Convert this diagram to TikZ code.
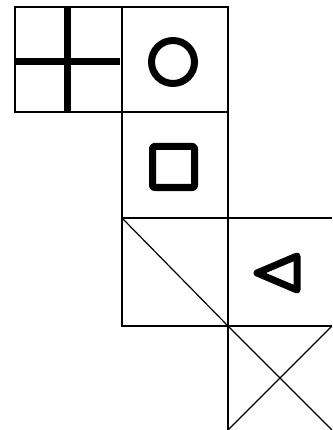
\documentclass[tikz,border=0pt]{standalone}
\begin{document}
\begin{tikzpicture}[x=1pt,y=-1pt,
  gridline/.style={line width=1.2pt,black},
  symbol/.style={line width=7pt,black,line join=round}]
\useasboundingbox (0,0) rectangle (332,430);
\clip (0,0) rectangle (332,430);
% grid cells
\coordinate (a1) at (15,7);
\coordinate (a2) at (122,7);
\coordinate (a3) at (228,7);
\coordinate (b1) at (15,112);
\coordinate (b2) at (122,112);
\coordinate (b3) at (228,112);
\coordinate (c2) at (122,218);
\coordinate (c3) at (228,218);
\coordinate (c4) at (332,218);
\coordinate (d2) at (122,326);
\coordinate (d3) at (228,326);
\coordinate (d4) at (332,326);
\coordinate (e3) at (228,430);
\coordinate (e4) at (332,430);
\draw[gridline] (a1) -- (a3) -- (b3) -- (b1) -- cycle;
\draw[gridline] (a2) -- (b2) -- (d2) -- (d3) -- (c3) -- (c2);
\draw[gridline] (b3) -- (c3) -- (c4);
\draw[gridline] (d3) -- (e3);
\draw[gridline] (d3) -- (d4);
\draw[gridline] (c2) -- (d3) -- (e4);
\draw[gridline] (d4) -- (e3);
% symbols
\draw[symbol] (67,7) -- (67,112);
\draw[symbol] (15,62) -- (120,62);
\draw[symbol] (173,62) circle (21.5);
\draw[symbol,rounded corners=2pt] (152.5,146.5) rectangle (194.5,187.5);
\draw[symbol] (257,273) -- (297,256) -- (297,290) -- cycle;
\end{tikzpicture}
\end{document}
